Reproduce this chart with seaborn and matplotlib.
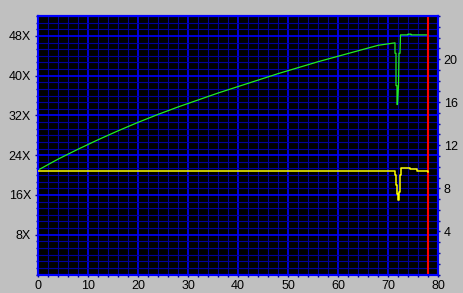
import matplotlib
matplotlib.use("Agg")
import matplotlib.pyplot as plt
from matplotlib.ticker import MultipleLocator, FixedLocator, FixedFormatter
import seaborn as sns
import pandas as pd

plt.rcParams['font.family'] = ['Liberation Sans', 'DejaVu Sans']

# ---- data ----
# green: write speed (left axis, X)
green_x = [0, 4, 8, 12, 16, 20, 24, 28, 32, 36, 40, 44, 48, 52, 56, 60, 64, 68,
           71.4, 71.4, 71.6, 71.6, 71.8, 71.8, 71.9, 72.1, 72.2, 72.4, 72.5,
           74.0, 74.0, 74.6, 74.6, 78.0]
green_y = [21.0, 23.2, 25.2, 27.1, 28.9, 30.6, 32.2, 33.7, 35.1, 36.5, 37.8, 39.1,
           40.4, 41.6, 42.8, 43.9, 45.0, 46.1,
           46.6, 44.5, 44.5, 38.0, 38.0, 34.2, 34.2, 38.0, 44.5, 44.5, 48.2,
           48.2, 48.35, 48.35, 48.2, 48.2]

# yellow: rotation speed (right axis)
yellow_x = [0, 3.8, 5.2, 5.8, 7.8, 8.4, 13.3, 13.9, 15.9, 16.4, 22.8, 23.4,
            71.4, 71.6, 71.8, 72.0, 72.2, 72.4, 72.6, 74.4, 75.7, 77.9, 78.0]
yellow_y = [9.62, 9.58, 9.62, 9.58, 9.62, 9.58, 9.62, 9.58, 9.62, 9.58, 9.62, 9.58,
            9.2, 8.3, 7.5, 6.9, 7.7, 9.2, 9.86, 9.77, 9.64, 9.55, 9.55]

marker_x = 78  # red vertical line

x_ticks = [0, 10, 20, 30, 40, 50, 60, 70, 80]
x_labels = ["0", "10", "20", "30", "40", "50", "60", "70", "80"]
left_ticks = [8, 16, 24, 32, 40, 48]
left_labels = ["8X", "16X", "24X", "32X", "40X", "48X"]
right_ticks = [4, 8, 12, 16, 20]
right_labels = ["4", "8", "12", "16", "20"]

green_df = pd.DataFrame({"pos": green_x, "speed": green_y})
yellow_df = pd.DataFrame({"pos": yellow_x, "rpm": yellow_y})

# ---- figure ----
W, H = 463, 293
fig = plt.figure(figsize=(W / 100, H / 100), dpi=100, facecolor="#C0C0C0")
ax = fig.add_axes([38 / W, (H - 274.5) / H, 400 / W, 258.5 / H])
ax.set_facecolor("black")
ax.set_xlim(0, 80)
ax.set_ylim(0, 52)

MAJ = "#0000FF"
MIN = "#00009C"

ax.xaxis.set_major_locator(FixedLocator(x_ticks))
ax.xaxis.set_major_formatter(FixedFormatter(x_labels))
ax.xaxis.set_minor_locator(MultipleLocator(2))
ax.yaxis.set_major_locator(FixedLocator(left_ticks))
ax.yaxis.set_major_formatter(FixedFormatter(left_labels))
ax.yaxis.set_minor_locator(MultipleLocator(4 / 3))

ax.grid(which="minor", color=MIN, lw=0.8, zorder=0)
ax.grid(which="major", color=MAJ, lw=1.2, zorder=0)
ax.set_axisbelow(True)

ax.tick_params(axis="both", which="both", colors=MIN, labelcolor="black", labelsize=9)
ax.tick_params(axis="y", which="major", length=2.5, width=1, pad=2.5)
ax.tick_params(axis="y", which="minor", length=1.6, width=1)
ax.tick_params(axis="x", which="major", length=1.6, width=1, pad=2.5)
ax.tick_params(axis="x", which="minor", length=1.6, width=1)

for s in ax.spines.values():
    s.set_color(MAJ)
    s.set_linewidth(1.5)

sns.lineplot(data=green_df, x="pos", y="speed", ax=ax, sort=False, estimator=None,
             color="#22EE22", lw=0.9, zorder=3)
ax.axvline(marker_x, color="#FF0000", lw=1.5, zorder=4)

ax2 = ax.twinx()
ax2.set_ylim(0, 24)
ax2.yaxis.set_major_locator(FixedLocator(right_ticks))
ax2.yaxis.set_major_formatter(FixedFormatter(right_labels))
ax2.yaxis.set_minor_locator(MultipleLocator(1))
ax2.tick_params(axis="y", which="both", colors=MIN, labelcolor="black", labelsize=9)
ax2.tick_params(axis="y", which="major", length=1.6, width=1, pad=2.5)
ax2.tick_params(axis="y", which="minor", length=1.6, width=1)
for s in ax2.spines.values():
    s.set_color(MAJ)
    s.set_linewidth(1.5)

sns.lineplot(data=yellow_df, x="pos", y="rpm", ax=ax2, sort=False,
             estimator=None, color="#FFFF00", lw=1.1, drawstyle="steps-post", zorder=3)

for a in (ax, ax2):
    a.set_xlabel("")
    a.set_ylabel("")
ax.set_xlim(0, 80)

fig.savefig("out.png", dpi=100, facecolor=fig.get_facecolor())
